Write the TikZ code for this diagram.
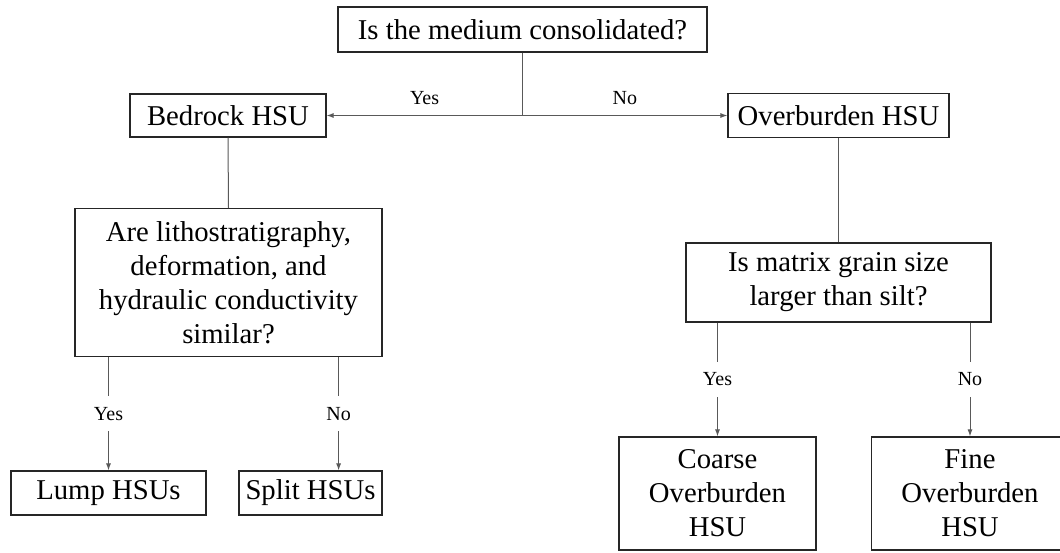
\documentclass[tikz,border=0pt]{standalone}
\usepackage{fontspec}
\setmainfont{Liberation Serif}
\usetikzlibrary{arrows.meta}

\begin{document}
\begin{tikzpicture}[x=1pt, y=-1pt,
	box/.style={draw=black!85, line width=1.2pt, inner sep=0pt, align=center, font=\fontsize{28.7}{34}\selectfont},
	link/.style={draw=black!65, line width=1pt},
	tip/.style={-{Latex[length=7pt, width=5pt]}},
	answer/.style={fill=white, inner sep=0pt, minimum height=35pt, font=\fontsize{20}{22}\selectfont},
	reply/.style={inner sep=2pt, font=\fontsize{20}{22}\selectfont}]

\fill[white] (0,0) rectangle (1060,552);
\useasboundingbox (0,0) rectangle (1060,552);

\node[box, minimum width=369pt, minimum height=45pt] (consolidated) at (522.5,29.5) {Is the medium consolidated?};

\node[box, minimum width=196pt, minimum height=43pt] (bedrock) at (228,115.5) {Bedrock HSU};

\node[box, minimum width=221pt, minimum height=44pt] (overburden) at (838.5,115.5) {Overburden HSU};

\node[box, minimum width=307pt, minimum height=148pt] (litho) at (228.5,282.75) {Are lithostratigraphy,\\ deformation, and\\ hydraulic conductivity\\ similar?};

\node[box, minimum width=305pt, minimum height=79pt] (grain) at (838.5,282.5) {Is matrix grain size\\ larger than silt?};

\node[box, minimum width=195pt, minimum height=44pt] (lump) at (108.5,493) {Lump HSUs};

\node[box, minimum width=143pt, minimum height=44pt] (split) at (310.5,493) {Split HSUs};

\node[box, minimum width=197pt, minimum height=113pt] (coarse) at (717.5,493.5) {Coarse\\ Overburden\\ HSU};

\node[box, minimum width=197pt, minimum height=113pt] (fine) at (970,493.5) {Fine\\ Overburden\\ HSU};

\draw[link, tip] (consolidated.south) |- node[reply, pos=0.75, above=8pt] {Yes} (bedrock.east);
\draw[link, tip] (consolidated.south) |- node[reply, pos=0.75, above=8pt] {No} (overburden.west);

\draw[link] (bedrock.south) -- (litho.north);
\draw[link] (overburden.south) -- (grain.north);

\draw[link, tip] (litho.south -| lump.north) -- node[answer] {Yes} (lump.north);
\draw[link, tip] ([xshift=-44pt]litho.south east) -- node[answer] {No} ([xshift=-44pt]litho.south east |- split.north);

\draw[link, tip] (grain.south -| coarse.north) -- node[answer] {Yes} (coarse.north);
\draw[link, tip] (grain.south -| fine.north) -- node[answer] {No} (fine.north);

\end{tikzpicture}
\end{document}
